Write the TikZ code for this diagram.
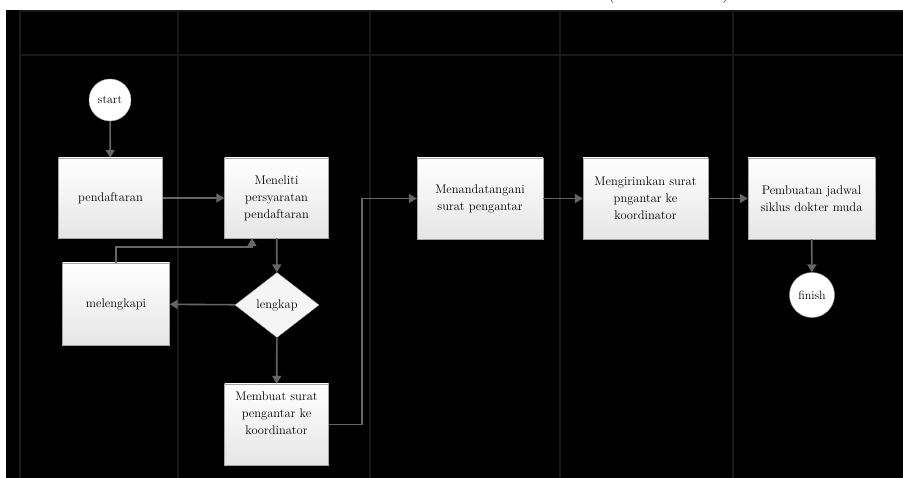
\documentclass[tikz,border=0pt]{standalone}
\usetikzlibrary{arrows.meta,shapes.geometric}
\tikzset{
  box/.style={draw=black!35,top color=white,bottom color=black!10,minimum width=104pt,minimum height=80pt,inner sep=2pt,align=center,font=\fontsize{12.5}{17}\selectfont},
  term/.style={circle,draw=black!35,fill=white,minimum size=42pt,inner sep=0pt,font=\fontsize{12}{15}\selectfont},
  cabang/.style={diamond,draw=black!35,fill=black!4,minimum width=84pt,minimum height=65pt,inner sep=1pt,font=\fontsize{12.5}{17}\selectfont},
  flow/.style={draw=black!60,line width=1.6pt,-{Triangle[length=8pt,width=9pt]}},
  lane/.style={draw=black!90,line width=1.3pt}
}
\begin{document}
\begin{tikzpicture}[x=1pt,y=-1pt]
\useasboundingbox (0,0) rectangle (903,478);
\fill[white] (0,0) rectangle (903,478);
\fill[black] (6,10) rectangle (903,478);
\begin{scope}
\clip (0,0) rectangle (903,478);
\node[anchor=base,font=\fontsize{20}{24}\selectfont,inner sep=0pt] (kurungkiri) at (611,-1) {(};
\node[anchor=base,font=\fontsize{20}{24}\selectfont,inner sep=0pt] (kurungkanan) at (726,-1) {)};
\end{scope}
\draw[lane] (20,11) -- (903,11);
\draw[lane] (20,55) -- (903,55);
\foreach \xl in {20,178,370,560,733}
  \draw[lane] (\xl,11) -- (\xl,478);
\node[term] (start) at (110,100) {start};
\node[box] (daftar) at (110.5,198) {pendaftaran};
\node[box] (teliti) at (276.5,198) {Meneliti\\persyaratan\\pendaftaran};
\node[cabang] (lengkap) at (277,305) {lengkap};
\node[box,minimum width=107pt,minimum height=82pt] (lengkapi) at (116,304) {melengkapi};
\node[box,minimum height=81pt] (surat) at (276.5,424.5) {Membuat surat\\pengantar ke\\koordinator\\[6pt]};
\node[box,minimum width=126pt,minimum height=81pt] (tanda) at (480,198.5) {Menandatangani\\surat pengantar};
\node[box,minimum width=125pt,minimum height=81pt] (kirim) at (645.5,198.5) {Mengirimkan surat\\pngantar ke\\koordinator};
\node[box,minimum width=127pt,minimum height=81pt] (jadwal) at (811.5,198.5) {Pembuatan jadwal\\siklus dokter muda};
\node[term,minimum size=45pt] (finish) at (812,295) {finish};
\draw[flow] (start) -- (daftar);
\draw[flow] (daftar) -- (teliti);
\draw[flow] (teliti) -- (lengkap);
\draw[flow] (lengkap) -- (lengkapi);
\draw[flow] (lengkap) -- (surat);
\draw[flow] (lengkapi.north) -- ++(0,-16) -| ([xshift=-24.5pt]teliti.south);
\draw[flow] (surat.east) -- ++(33,0) |- (tanda.west);
\draw[flow] (tanda) -- (kirim);
\draw[flow] (kirim) -- (jadwal);
\draw[flow] (jadwal) -- (finish);
\end{tikzpicture}
\end{document}
